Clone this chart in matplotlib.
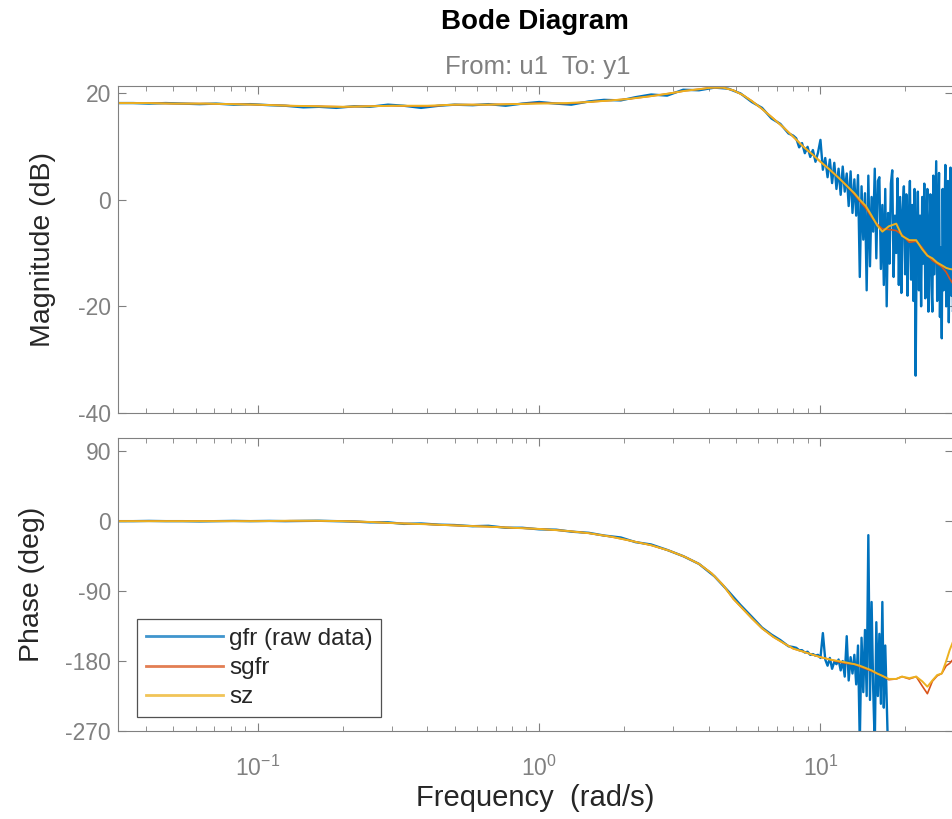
import matplotlib
matplotlib.use('Agg')
import matplotlib.pyplot as plt
from matplotlib.ticker import LogLocator, NullFormatter, FixedLocator

plt.rcParams['font.family'] = ['Liberation Sans', 'DejaVu Sans']
plt.rcParams['axes.unicode_minus'] = False

# smoothed fits (sgfr, sz)
w_fit = [0.0318, 0.04, 0.05, 0.065, 0.08, 0.1, 0.13, 0.16, 0.2, 0.25,
         0.3, 0.4, 0.5, 0.65, 0.8, 1.0, 1.25, 1.5, 1.8, 2.1,
         2.5, 2.9, 3.3, 3.7, 4.1, 4.5, 4.9, 5.3, 5.7, 6.2,
         6.8, 7.4, 8.0, 8.7, 9.4, 10.0, 10.8, 11.6, 12.4, 13.2,
         13.8, 14.5, 15.2, 15.9, 16.6, 17.5, 18.6, 19.5, 20.7, 21.9,
         23.0, 24.0, 25.0, 26.0, 27.0, 28.0, 28.8, 29.6]
mag_sgfr = [18.1, 18.1, 18.0, 18.0, 17.9, 17.8, 17.6, 17.5, 17.4, 17.5,
            17.6, 17.5, 17.8, 17.8, 17.9, 18.1, 18.0, 18.3, 18.6, 18.9,
            19.4, 19.9, 20.4, 20.7, 21.0, 21.0, 20.5, 19.6, 18.5, 17.0,
            15.2, 13.5, 11.8, 9.9, 8.4, 7.1, 5.6, 4.1, 2.6, 1.0,
            -0.3, -1.6, -3.3, -4.6, -5.5, -5.6, -5.8, -6.6, -8.0, -7.8,
            -9.0, -10.4, -11.4, -12.0, -12.6, -13.6, -14.8, -15.8]
mag_sz = [18.1, 18.1, 18.0, 18.0, 17.9, 17.8, 17.6, 17.5, 17.4, 17.5,
          17.6, 17.6, 17.8, 17.8, 17.9, 18.0, 18.1, 18.3, 18.6, 18.9,
          19.4, 19.9, 20.4, 20.7, 21.0, 21.0, 20.5, 19.6, 18.5, 17.0,
          15.2, 13.5, 11.8, 9.9, 8.4, 7.1, 5.6, 4.1, 2.6, 1.2,
          0.0, -1.2, -3.0, -4.8, -6.0, -5.0, -4.5, -6.8, -7.6, -7.6,
          -9.3, -10.5, -11.0, -11.8, -12.3, -12.8, -13.0, -13.1]
ph_sgfr = [0, 0, 0, 0, 0, 0, 0.5, 0.5, 0, -1,
           -2.5, -4, -5.5, -7, -8.5, -10, -12.5, -15.5, -20, -25,
           -31, -38, -46, -55, -67, -82, -100, -113, -125, -138,
           -149, -157, -164, -168, -172, -175, -178, -181, -183, -184,
           -187, -190, -193, -196, -199, -204, -203, -200, -203, -200,
           -212, -222, -206, -199, -196, -186, -183, -178]
ph_sz = [0, 0, 0, 0, 0, 0, 0.5, 0.5, 0, -1,
         -2.5, -4, -5.5, -7, -8.5, -10, -12.5, -15.5, -20, -25,
         -31, -38, -46, -55, -67, -82, -100, -113, -125, -138,
         -149, -157, -164, -168, -172, -175, -178, -180, -182, -184,
         -186, -189, -192, -196, -199, -203, -203, -200, -202, -200,
         -206, -213, -205, -198, -196, -180, -166, -155]

# raw frequency response gfr
w_raw = [0.0318, 0.036, 0.041, 0.047, 0.054, 0.062, 0.071, 0.082, 0.094, 0.11,
         0.125, 0.145, 0.165, 0.19, 0.22, 0.25, 0.29, 0.33, 0.38, 0.44,
         0.5, 0.58, 0.66, 0.76, 0.87, 1.0, 1.15, 1.3, 1.5, 1.7,
         1.95, 2.2, 2.5, 2.85, 3.25, 3.7, 4.2, 4.7, 5.2, 5.7,
         6.2, 6.7, 7.2, 7.7, 8.0,
         8.2, 8.4, 8.6, 8.8, 9.0, 9.2, 9.4, 9.6, 9.8, 10.0,
         10.2, 10.4, 10.6, 10.8, 11.0, 11.2, 11.4, 11.6, 11.8, 12.0,
         12.2, 12.4, 12.6, 12.8, 13.0, 13.2, 13.4, 13.6, 13.8, 14.0,
         14.2, 14.4, 14.6, 14.8, 15.0, 15.2, 15.4, 15.6, 15.8, 16.0,
         16.2, 16.4, 16.6, 16.8, 17.0, 17.2, 17.4, 17.6, 17.8, 18.0,
         18.2, 18.4, 18.6, 18.8, 19.0, 19.2, 19.4, 19.6, 19.8, 20.0,
         20.2, 20.4, 20.6, 20.8, 21.0, 21.2, 21.4, 21.6, 21.8, 22.0,
         22.2, 22.4, 22.6, 22.8, 23.0, 23.2, 23.4, 23.6, 23.8, 24.0,
         24.2, 24.4, 24.6, 24.8, 25.0, 25.2, 25.4, 25.6, 25.8, 26.0,
         26.2, 26.4, 26.6, 26.8, 27.0, 27.2, 27.4, 27.6, 27.8, 28.0,
         28.2, 28.4, 28.6, 28.8, 29.0, 29.2, 29.4, 29.6, 29.8]
mag_raw = [18.1, 18.1, 18.0, 18.1, 18.0, 17.9, 18.0, 17.8, 17.9, 17.7,
           17.6, 17.3, 17.4, 17.2, 17.5, 17.4, 17.8, 17.6, 17.2, 17.6,
           17.8, 17.7, 17.9, 17.6, 18.0, 18.3, 18.0, 17.8, 18.4, 18.7,
           18.6, 19.2, 19.7, 19.5, 20.6, 20.5, 21.0, 20.8, 19.9, 18.3,
           17.2, 15.2, 14.2, 12.4, 12.0,
           11.5, 9.8, 10.6, 8.7, 9.9, 8.0, 9.3, 7.1, 8.8, 11.2,
           5.6, 7.8, 4.2, 7.5, 3.1, 6.9, 2.0, 5.8, 0.9, 6.2,
           1.5, 4.9, -1.2, 5.3, -2.5, 3.8, -3.0, 4.6, -14.5, 2.5,
           -7.5, 1.2, -17.0, 4.5, -12.5, 0.5, -6.0, 5.8, -11.0, 3.5,
           4.2, -13.0, -1.0, -16.0, 2.0, -20.0, -2.5, -12.0, 3.0, 5.5,
           -14.5, -3.0, -10.0, 4.0, -16.0, 0.5, -17.5, -2.0, 2.5, -14.0,
           1.0, -18.0, -4.0, 3.5, -15.0, -1.0, -19.0, 2.0, -33.0, -6.0,
           1.5, -17.0, -3.0, -20.0, 0.5, -12.0, 3.0, -18.5, -5.0, 2.0,
           -21.0, -8.0, 1.0, -16.0, -21.0, 4.5, -14.0, -3.0, 7.2, -19.0,
           -6.0, 5.0, -22.0, -9.0, -26.0, 2.0, -17.0, -4.0, 6.5, -20.0,
           -10.0, 3.5, -23.0, -7.0, 6.0, -18.0, -1.0, -21.0, 5.0]
ph_raw = [0, 0, 0.3, 0, 0, -0.3, 0, 0.3, 0, 0.3,
          0, 0.3, 0.5, 0, -0.5, -1.5, -1.5, -3.5, -3, -4.5,
          -5, -6.5, -6, -8.5, -8.5, -10.5, -11, -13.5, -15, -18.5,
          -21, -27, -30, -37, -45, -55, -71, -90, -108, -123,
          -137, -146, -153, -161, -162,
          -163, -166, -166, -169, -168, -172, -171, -173, -172, -176,
          -144, -178, -186, -176, -190, -181, -184, -178, -192, -180,
          -200, -148, -205, -175, -196, -172, -210, -160, -285, -150,
          -220, -140, -225, -18, -230, -104, -215, -290, -130, -225,
          -145, -235, -104, -240, -160, -230, -300]

blue = '#0072BD'
red = '#D95319'
yellow = '#EDB120'
grey = '#808080'
dark = '#262626'

fig = plt.figure(figsize=(9.53, 8.19), dpi=100)
ax1 = fig.add_axes([118/953, 1-413/819, 835/953, 327/819])
ax2 = fig.add_axes([118/953, 1-731/819, 835/953, 293/819])

ax1.plot(w_raw, mag_raw, color=blue, lw=1.7)
ax1.plot(w_fit, mag_sgfr, color=red, lw=1.2)
ax1.plot(w_fit, mag_sz, color=yellow, lw=1.4)

ax2.plot(w_raw[:len(ph_raw)], ph_raw, color=blue, lw=1.7, label='gfr (raw data)')
ax2.plot(w_fit, ph_sgfr, color=red, lw=1.2, label='sgfr')
ax2.plot(w_fit, ph_sz, color=yellow, lw=1.4, label='sz')

for ax in (ax1, ax2):
    ax.set_xscale('log')
    ax.set_xlim(0.0318, 29.6)
    ax.xaxis.set_major_locator(LogLocator(base=10))
    ax.xaxis.set_minor_locator(LogLocator(base=10, subs=range(2, 10)))
    ax.xaxis.set_minor_formatter(NullFormatter())
    ax.tick_params(which='both', direction='in', top=True, right=True,
                   colors=grey, labelsize=16.5, pad=5)
    ax.tick_params(axis='x', pad=18)
    ax.tick_params(which='major', length=6)
    ax.tick_params(which='minor', length=3.5)
    for s in ax.spines.values():
        s.set_color(grey)

ax1.set_ylim(-40, 21.3)
ax1.yaxis.set_major_locator(FixedLocator([-40, -20, 0, 20]))
ax1.tick_params(labelbottom=False)
ax1.set_ylabel('Magnitude (dB)', fontsize=20.5, color=dark)
ax1.yaxis.set_label_coords(-0.074, 0.5)

ax2.set_ylim(-270, 107)
ax2.yaxis.set_major_locator(FixedLocator([-270, -180, -90, 0, 90]))
ax2.set_ylabel('Phase (deg)', fontsize=20.5, color=dark)
ax2.yaxis.set_label_coords(-0.088, 0.5)
ax2.set_xlabel('Frequency  (rad/s)', fontsize=21, color=dark, labelpad=2)

leg = ax2.legend(loc='lower left', bbox_to_anchor=(19/835, 14/293), borderaxespad=0,
                 fontsize=17.5, frameon=True, fancybox=False, handlelength=3.2,
                 handletextpad=0.25, labelspacing=0.3, borderpad=0.35)
leg.get_frame().set_edgecolor(dark)
leg.get_frame().set_linewidth(0.9)
for t in leg.get_texts():
    t.set_color(dark)
for h in leg.get_lines():
    h.set_linewidth(2.0)
    h.set_alpha(0.75)

fig.text(535/953, 1-22/819, 'Bode Diagram', ha='center', va='center',
         fontsize=20, fontweight='bold')
fig.text(538/953, 1-67/819, 'From: u1  To: y1', ha='center', va='center',
         fontsize=18.5, color=grey)

fig.savefig('out.png', dpi=100)
